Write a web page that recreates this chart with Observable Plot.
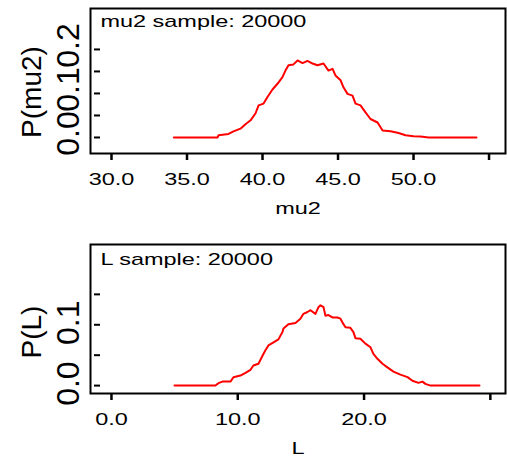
<!DOCTYPE html>
<html><head><meta charset="utf-8">
<script src="https://cdn.jsdelivr.net/npm/d3@7"></script>
<script src="https://cdn.jsdelivr.net/npm/@observablehq/plot@0.6"></script>
<style>
body{margin:0;background:#fff;}
#chart svg{display:block;}
</style></head><body><div id="chart"></div>
<script>
// ---- Panel 1: mu2 ----
const mu2Title = "mu2 sample: 20000";
const mu2XLabel = "mu2";
const mu2YLabel = "P(mu2)";
const mu2X = [34.13, 37.02, 37.09, 37.75, 38.08, 38.54, 38.87, 39.21, 39.54, 39.74, 40.07, 40.33, 40.66, 40.99, 41.32, 41.52, 41.72, 42.05, 42.32, 42.65, 42.98, 43.31, 43.64, 44.04, 44.37, 44.64, 44.83, 45.17, 45.36, 45.63, 45.96, 46.16, 46.49, 46.82, 47.15, 47.62, 47.95, 48.48, 49.01, 49.47, 50.00, 50.46, 51.0, 54.17];
const mu2Y = [0, 0, 0.005, 0.008, 0.014, 0.020, 0.030, 0.039, 0.055, 0.073, 0.077, 0.092, 0.109, 0.122, 0.137, 0.152, 0.164, 0.166, 0.175, 0.169, 0.174, 0.168, 0.164, 0.168, 0.152, 0.156, 0.141, 0.130, 0.114, 0.099, 0.095, 0.077, 0.073, 0.057, 0.042, 0.034, 0.016, 0.014, 0.010, 0.005, 0.003, 0.002, 0, 0];
const mu2XTicks = [30, 35, 40, 45, 50, 55];
const mu2XTickLabels = ["30.0", "35.0", "40.0", "45.0", "50.0", ""];
const mu2YTicks = [0, 0.05, 0.1, 0.15, 0.2];
const mu2YLabelValues = [0, 0.1, 0.2];
const mu2YLabelTexts = ["0.0", "0.1", "0.2"];

// ---- Panel 2: L ----
const lTitle = "L sample: 20000";
const lXLabel = "L";
const lYLabel = "P(L)";
const lX = [4.99, 8.23, 8.47, 8.79, 9.42, 9.66, 10.21, 10.61, 11.01, 11.24, 11.64, 11.96, 12.19, 12.43, 12.83, 13.22, 13.54, 13.62, 14.01, 14.57, 14.96, 15.20, 15.52, 15.76, 16.15, 16.39, 16.55, 16.79, 16.94, 17.18, 17.50, 17.89, 18.13, 18.37, 18.53, 18.92, 19.16, 19.32, 19.71, 20.11, 20.51, 20.74, 21.06, 21.46, 21.85, 22.33, 22.88, 23.44, 23.83, 24.31, 24.62, 24.86, 25.26, 29.14];
const lY = [0, 0, 0.004, 0.0066, 0.0066, 0.0137, 0.0165, 0.021, 0.026, 0.033, 0.036, 0.049, 0.058, 0.066, 0.071, 0.076, 0.088, 0.094, 0.101, 0.103, 0.110, 0.118, 0.121, 0.124, 0.118, 0.129, 0.132, 0.129, 0.115, 0.116, 0.112, 0.112, 0.110, 0.101, 0.096, 0.095, 0.088, 0.078, 0.077, 0.069, 0.063, 0.052, 0.044, 0.036, 0.030, 0.023, 0.018, 0.014, 0.008, 0.0045, 0.0066, 0.0028, 0, 0];
const lXTicks = [0, 10, 20, 30];
const lXTickLabels = ["0.0", "10.0", "20.0", ""];
const lYTicks = [0, 0.05, 0.1, 0.15];
const lYLabelValues = [0, 0.1];
const lYLabelTexts = ["0.0", "0.1"];

// widen horizontal texts (the reference glyphs are horizontally stretched)
function stretch(svg, sx) {
  svg.querySelectorAll('g[font-size="17"] text').forEach(t => {
    const tr = t.getAttribute("transform");
    if (tr) {
      t.setAttribute("transform", tr + ` scale(${sx},1)`);
    } else {
      const x = t.getAttribute("x") || 0, y = t.getAttribute("y") || 0;
      t.removeAttribute("x"); t.removeAttribute("y");
      t.setAttribute("transform", `translate(${x},${y}) scale(${sx},1)`);
    }
  });
  return svg;
}

function panel(o) {
  const data = o.xs.map((x, i) => ({x, y: o.ys[i]}));
  const labelMap = new Map(o.xTicks.map((t, i) => [t, o.xTickLabels[i]]));
  const svg = Plot.plot({
    width: 507,
    height: 230,
    marginLeft: 90,
    marginRight: 2,
    marginTop: o.marginTop,
    marginBottom: o.marginBottom,
    style: {fontFamily: "'Liberation Sans', Arial, sans-serif", color: "black", background: "white"},
    x: {domain: o.xDomain, label: null},
    y: {domain: o.yDomain, label: null},
    marks: [
      Plot.line(data, {x: "x", y: "y", stroke: "#ff0000", strokeWidth: 2}),
      Plot.frame({stroke: "black", strokeWidth: 2}),
      Plot.axisX({ticks: o.xTicks, tickFormat: () => "", tickSize: 7, strokeWidth: 2.5, label: null}),
      Plot.axisX({ticks: o.xTicks, tickFormat: d => labelMap.get(d) ?? "", tickSize: 0, tickPadding: 19, fontSize: 17, label: null}),
      Plot.axisY({ticks: o.yTicks, tickFormat: () => "", tickSize: 6, dx: 10, strokeWidth: 2, label: null}),
      Plot.text(o.yLabelValues, {y: d => d, text: (d, i) => o.yLabelTexts[i], frameAnchor: "left", dx: -22, dy: o.yLabelDy, rotate: -90, fontSize: 32, textAnchor: "middle", lineAnchor: "middle"}),
      Plot.text([o.yTitle], {text: d => d, frameAnchor: "left", dx: -58, dy: o.yTitleDy, rotate: -90, fontSize: 28, textAnchor: "middle", lineAnchor: "middle"}),
      Plot.text([o.title], {text: d => d, frameAnchor: "top-left", dx: 10, dy: o.titleDy, textAnchor: "start", lineAnchor: "middle", fontSize: 17}),
      Plot.text([o.xTitle], {text: d => d, frameAnchor: "bottom", dy: 55, textAnchor: "middle", lineAnchor: "middle", fontSize: 17})
    ]
  });
  return stretch(svg, 1.38);
}

const chart = document.getElementById("chart");
chart.append(panel({
  xs: mu2X, ys: mu2Y, xDomain: [28.61, 56.09], yDomain: [-0.0364, 0.293],
  xTicks: mu2XTicks, xTickLabels: mu2XTickLabels, yTicks: mu2YTicks,
  yLabelValues: mu2YLabelValues, yLabelTexts: mu2YLabelTexts,
  title: mu2Title, xTitle: mu2XLabel, yTitle: mu2YLabel,
  marginTop: 8, marginBottom: 77, yTitleDy: 11, yLabelDy: -4, titleDy: 13
}));
chart.append(panel({
  xs: lX, ys: lY, xDomain: [-1.66, 31.2], yDomain: [-0.013, 0.232],
  xTicks: lXTicks, xTickLabels: lXTickLabels, yTicks: lYTicks,
  yLabelValues: lYLabelValues, yLabelTexts: lYLabelTexts,
  title: lTitle, xTitle: lXLabel, yTitle: lYLabel,
  marginTop: 14, marginBottom: 67, yTitleDy: 13, yLabelDy: -2, titleDy: 15
}));
</script>
</body></html>
